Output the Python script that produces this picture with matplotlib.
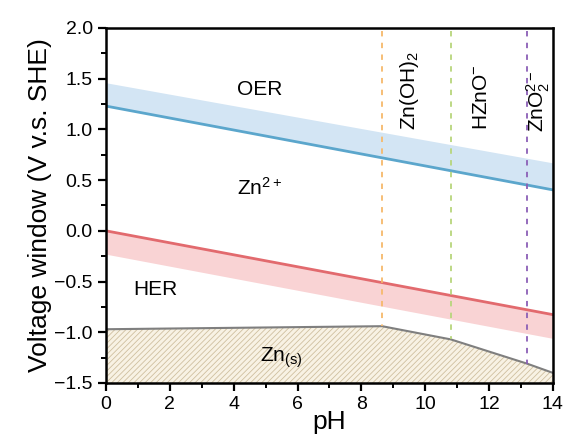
import numpy as np
import matplotlib
matplotlib.use('Agg')
import matplotlib.pyplot as plt
from matplotlib.ticker import MultipleLocator

plt.rcParams['font.family'] = ['Liberation Sans', 'DejaVu Sans']
plt.rcParams['mathtext.fontset'] = 'custom'
plt.rcParams['mathtext.rm'] = 'Liberation Sans'
plt.rcParams['mathtext.it'] = 'Liberation Sans'
plt.rcParams['mathtext.default'] = 'regular'
plt.rcParams['hatch.linewidth'] = 0.6

# Data
ph_range = [0, 14]
oer_line = [1.23, 0.404]      # OER equilibrium
oer_top = [1.46, 0.67]        # upper edge of OER band
her_line = [0.0, -0.826]      # HER equilibrium
her_bottom = [-0.23, -1.06]   # lower edge of HER band

zn_ph = [0, 8.65, 10.8, 13.2, 14]
zn_v = [-0.97, -0.94, -1.07, -1.31, -1.40]

boundary_ph = [8.65, 10.8, 13.2]
boundary_v = [-0.94, -1.07, -1.31]
boundary_colors = ['#f6b96b', '#b7d67c', '#8b5fb6']

fig = plt.figure(figsize=(5.67, 4.42), dpi=100)
ax = fig.add_axes([0.187, 0.1335, 0.788, 0.8032])

# bands
ax.fill_between(ph_range, oer_line, oer_top, color='#d3e5f4', lw=0)
ax.plot(ph_range, oer_line, color='#5ba6cc', lw=2)
ax.fill_between(ph_range, her_bottom, her_line, color='#f9d3d4', lw=0)
ax.plot(ph_range, her_line, color='#e26a6e', lw=2)

# Zn(s) region
ax.fill_between(zn_ph, -1.5, zn_v, facecolor='#f8f2e4', edgecolor='#cfbf9f',
                hatch='//////', lw=0)
ax.plot(zn_ph, zn_v, color='#7f7f7f', lw=1.5)

# phase boundaries
for xb, yb, c in zip(boundary_ph, boundary_v, boundary_colors):
    ax.plot([xb, xb], [1.97, yb], color=c, lw=1.3, ls=(0, (3, 3.5)))

# labels
ax.text(4.8, 1.39, 'OER', fontsize=15, ha='center', va='center')
ax.text(4.8, 0.42, r'Zn$^{2+}$', fontsize=15, ha='center', va='center')
ax.text(1.55, -0.58, 'HER', fontsize=15, ha='center', va='center')
ax.text(5.5, -1.25, r'Zn$_{(s)}$', fontsize=15, ha='center', va='center')
ax.text(9.52, 0.99, r'Zn(OH)$_2$', fontsize=15, rotation=90, ha='center', va='bottom')
ax.text(11.78, 0.99, r'HZnO$^{-}$', fontsize=15, rotation=90, ha='center', va='bottom')
ax.text(13.55, 0.97, r'ZnO$_2^{2-}$', fontsize=15, rotation=90, ha='center', va='bottom')

ax.set_xlim(0, 14)
ax.set_ylim(-1.5, 2.0)
ax.xaxis.set_major_locator(MultipleLocator(2))
ax.xaxis.set_minor_locator(MultipleLocator(1))
ax.yaxis.set_major_locator(MultipleLocator(0.5))
ax.yaxis.set_minor_locator(MultipleLocator(0.25))
ax.tick_params(which='major', direction='out', length=6, width=1.6, labelsize=14)
ax.tick_params(which='minor', direction='out', length=3.5, width=1.4)
for s in ax.spines.values():
    s.set_linewidth(1.8)

ax.set_xlabel('pH', fontsize=19, labelpad=-2)
ax.set_ylabel('Voltage window (V v.s. SHE)', fontsize=19, labelpad=2)

fig.savefig('out.png', dpi=100)
